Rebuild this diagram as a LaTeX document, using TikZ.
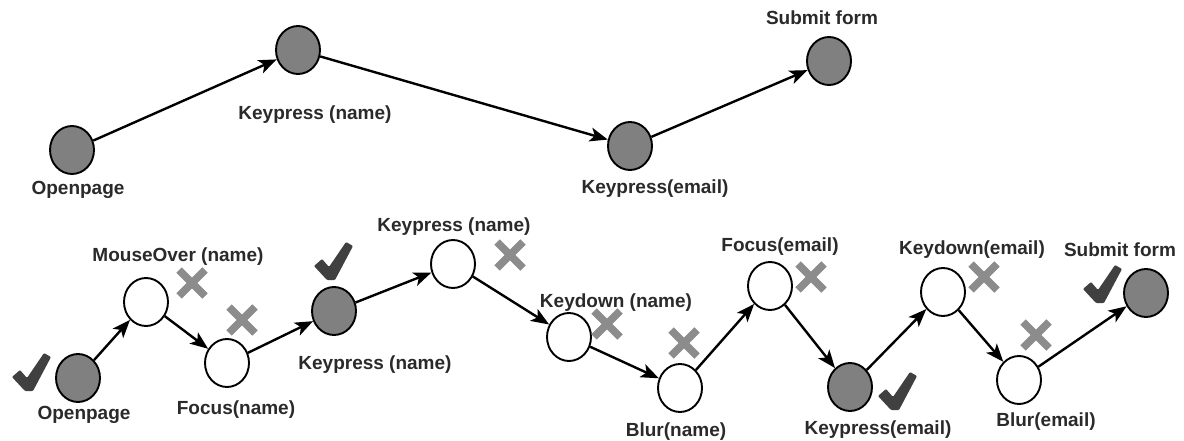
\documentclass[tikz,border=0pt]{standalone}
\usepackage{fontspec}
\setmainfont{Liberation Sans}
\usetikzlibrary{arrows.meta,shapes.geometric}
\definecolor{fillg}{HTML}{808080}
\definecolor{xg}{HTML}{8C8C8C}
\definecolor{chk}{HTML}{404040}
\definecolor{txt}{HTML}{2A2A2A}
\begin{document}
\begin{tikzpicture}[x=1pt,y=-1pt,
  state/.style={ellipse,draw=black,line width=1.9pt,minimum width=44pt,minimum height=48pt,inner sep=0pt},
  full/.style={state,fill=fillg},
  empty/.style={state,fill=white},
  lab/.style={font=\fontsize{19}{22}\selectfont\bfseries,text=txt,inner sep=0pt,text height=13.5pt,text depth=0pt,anchor=center},
  conn/.style={line width=2.4pt,-{Stealth[length=18pt,width=14pt,inset=4.5pt]}},
  xmark/.pic={\draw[xg,line width=7.5pt] (-13,-13)--(13,13) (-13,13)--(13,-13);},
  checkmark/.pic={\fill[chk,rounded corners=1pt] (0,24)--(8,17)--(15,25)--(32,0)--(39,4)--(21,38)--(13,38)--cycle;}
]
\fill[white] (0,0) rectangle (1184,441);
\useasboundingbox (0,0) rectangle (1184,441);

% ---- top row ----
\node[full] (t1) at (72,150) {};
\node[full] (t2) at (298,50) {};
\node[full] (t3) at (630,146) {};
\node[full] (t4) at (829,61) {};
\node[lab] (lt1) at (78,188) {Openpage};
\node[lab] (lt2) at (315,113) {Keypress (name)};
\node[lab] (lt3) at (655,187) {Keypress(email)};
\node[lab] (lt4) at (822,18) {Submit form};
\draw[conn] (t1) -- (t2);
\draw[conn] (t2) -- (t3);
\draw[conn] (t3) -- (t4);

% ---- bottom row ----
\node[full]  (b1)  at (78,378) {};
\node[empty] (b2)  at (146,302) {};
\node[empty] (b3)  at (227,363) {};
\node[full]  (b4)  at (334,311) {};
\node[empty] (b5)  at (453,264) {};
\node[empty] (b6)  at (569,337) {};
\node[empty] (b7)  at (680,388) {};
\node[empty] (b8)  at (770,286) {};
\node[full]  (b9)  at (850,387) {};
\node[empty] (b10) at (943,292) {};
\node[empty] (b11) at (1019,380) {};
\node[full]  (b12) at (1146,293) {};

\node[lab] (lb1)  at (84,413)  {Openpage};
\node[lab] (lb2)  at (178,255) {MouseOver (name)};
\node[lab] (lb3)  at (236,408) {Focus(name)};
\node[lab] (lb4)  at (375,363) {Keypress (name)};
\node[lab] (lb5)  at (454,225) {Keypress (name)};
\node[lab] (lb6)  at (616,301) {Keydown (name)};
\node[lab] (lb7)  at (676,430) {Blur(name)};
\node[lab] (lb8)  at (780,245) {Focus(email)};
\node[lab] (lb9)  at (878,428) {Keypress(email)};
\node[lab] (lb10) at (972,248) {Keydown(email)};
\node[lab] (lb11) at (1046,420) {Blur(email)};
\node[lab] (lb12) at (1120,250) {Submit form};

\draw[conn] (b1) -- (b2);
\draw[conn] (b2) -- (b3);
\draw[conn] (b3) -- (b4);
\draw[conn] (b4) -- (b5);
\draw[conn] (b5) -- (b6);
\draw[conn] (b6) -- (b7);
\draw[conn] (b7) -- (b8);
\draw[conn] (b8) -- (b9);
\draw[conn] (b9) -- (b10);
\draw[conn] (b10) -- (b11);
\draw[conn] (b11) -- (b12);

% cross marks
\pic at (192,283) {xmark};
\pic at (242,320) {xmark};
\pic at (510,255) {xmark};
\pic at (607,324) {xmark};
\pic at (684,343) {xmark};
\pic at (811,277) {xmark};
\pic at (984,277) {xmark};
\pic at (1036,335) {xmark};

% check marks
\pic at (12,353) {checkmark};
\pic at (314,242) {checkmark};
\pic at (878,372) {checkmark};
\pic at (1083,265) {checkmark};
\end{tikzpicture}
\end{document}
